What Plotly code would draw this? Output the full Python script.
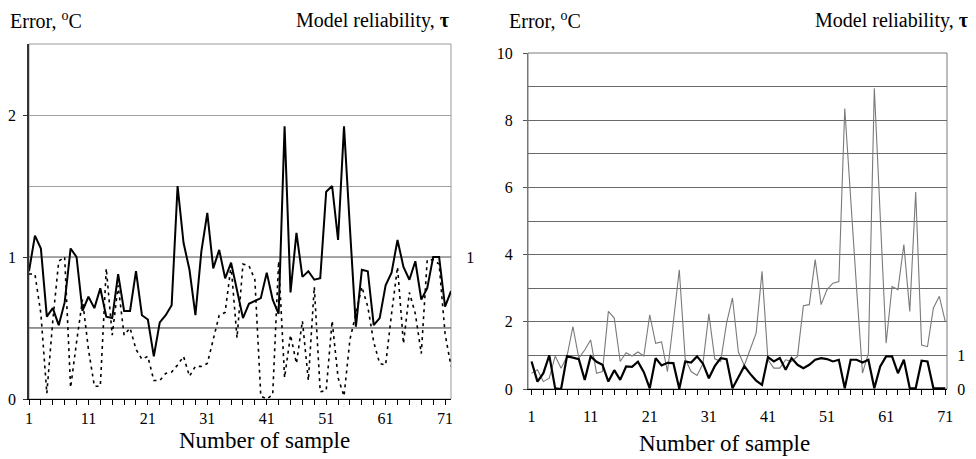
import plotly.graph_objects as go

# ---------------- data ----------------
samples_a = list(range(1, 73))
error_a = [0.90, 1.15, 1.06, 0.58, 0.64, 0.52, 0.68, 1.06, 1.00, 0.62,
           0.72, 0.64, 0.78, 0.58, 0.57, 0.88, 0.62, 0.62, 0.90, 0.59,
           0.56, 0.30, 0.54, 0.59, 0.66, 1.50, 1.10, 0.91, 0.59, 1.04,
           1.31, 0.92, 1.05, 0.85, 0.96, 0.76, 0.57, 0.67, 0.69, 0.71,
           0.89, 0.70, 0.60, 1.92, 0.75, 1.17, 0.86, 0.90, 0.84, 0.85,
           1.46, 1.50, 1.12, 1.92, 1.20, 0.51, 0.91, 0.90, 0.52, 0.57,
           0.80, 0.89, 1.12, 0.93, 0.84, 0.97, 0.70, 0.78, 1.00, 1.00,
           0.65, 0.76]
reliability_a = [0.88, 0.88, 0.60, 0.04, 0.55, 0.97, 1.00, 0.08, 0.40, 0.70,
                 0.35, 0.09, 0.09, 0.92, 0.45, 0.80, 0.45, 0.50, 0.35, 0.28,
                 0.30, 0.13, 0.13, 0.18, 0.19, 0.24, 0.30, 0.16, 0.23, 0.23,
                 0.25, 0.42, 0.59, 0.61, 0.94, 0.43, 0.95, 0.94, 0.84, 0.02,
                 0.00, 0.03, 0.97, 0.15, 0.45, 0.25, 0.55, 0.13, 0.79, 0.05,
                 0.06, 0.55, 0.15, 0.02, 0.42, 0.60, 0.79, 0.65, 0.40, 0.25,
                 0.24, 0.60, 0.93, 0.39, 0.75, 0.60, 0.32, 0.98, 0.98, 0.95,
                 0.46, 0.23]

samples_b = list(range(1, 72))
error_b = [0.47, 0.57, 0.22, 0.32, 0.98, 0.62, 0.97, 1.86, 0.92, 1.16,
           1.46, 0.47, 0.52, 2.31, 2.11, 0.82, 1.08, 0.98, 1.10, 0.98,
           2.21, 1.36, 1.40, 0.52, 2.00, 3.55, 0.90, 0.52, 0.40, 0.75,
           2.24, 0.90, 0.82, 1.96, 2.71, 1.10, 0.70, 1.16, 1.66, 3.50,
           0.87, 0.62, 0.62, 0.87, 0.82, 0.97, 2.48, 2.51, 3.85, 2.51,
           2.96, 3.15, 3.20, 8.35, 5.60, 3.00, 0.47, 1.06, 8.95, 5.10,
           1.36, 3.05, 2.96, 4.30, 2.31, 5.86, 1.31, 1.26, 2.41, 2.76,
           2.01]
reliability_b = [0.82, 0.22, 0.47, 1.00, 0.02, 0.00, 0.98, 0.93, 0.89, 0.27,
                 0.97, 0.81, 0.72, 0.22, 0.56, 0.27, 0.67, 0.66, 0.81, 0.50,
                 0.02, 0.92, 0.70, 0.78, 0.77, 0.01, 0.82, 0.79, 0.97, 0.76,
                 0.32, 0.68, 0.92, 0.89, 0.02, 0.35, 0.68, 0.45, 0.25, 0.12,
                 0.95, 0.82, 0.92, 0.57, 0.92, 0.72, 0.62, 0.72, 0.87, 0.92,
                 0.89, 0.82, 0.87, 0.02, 0.87, 0.87, 0.79, 0.87, 0.02, 0.67,
                 0.97, 0.97, 0.47, 0.87, 0.02, 0.02, 0.84, 0.82, 0.02, 0.02,
                 0.02]

x_ticks = [1, 11, 21, 31, 41, 51, 61, 71]
y_ticks_a = [0, 1, 2]
y_ticks_b = [0, 2, 4, 6, 8, 10]
right_ticks_a = [1]
right_ticks_b = [0, 1]

FONT = "Liberation Serif"

# The page body has an 8px margin, so the figure is sized to end at the window edge.
W, H = 968, 451

fig = go.Figure()
fig.add_trace(go.Scatter(x=samples_a, y=error_a, mode="lines",
                         line=dict(color="black", width=2),
                         xaxis="x", yaxis="y", showlegend=False))
fig.add_trace(go.Scatter(x=samples_a, y=reliability_a, mode="lines",
                         line=dict(color="black", width=1.6, dash="3px,4px"),
                         xaxis="x", yaxis="y2", showlegend=False))
fig.add_trace(go.Scatter(x=samples_b, y=error_b, mode="lines",
                         line=dict(color="#7a7a7a", width=1.1),
                         xaxis="x2", yaxis="y3", showlegend=False))
fig.add_trace(go.Scatter(x=samples_b, y=reliability_b, mode="lines",
                         line=dict(color="black", width=2.2),
                         xaxis="x2", yaxis="y4", showlegend=False))

def xaxis_style(domain, rng, anchor, standoff):
    return dict(domain=domain, range=rng, anchor=anchor, automargin=False,
                tickmode="array", tickvals=x_ticks, ticks="outside", ticklen=5,
                tickcolor="black", showline=True, linecolor="black", linewidth=1,
                showgrid=False, zeroline=False, ticklabelstandoff=standoff,
                tickfont=dict(family=FONT, size=16, color="black"),
                minor=dict(tickmode="linear", tick0=1, dtick=2, ticks="outside",
                           ticklen=5, tickcolor="black", showgrid=False))

fig.update_layout(
    template="none",
    width=W, height=H,
    margin=dict(l=0, r=0, t=0, b=0, pad=0),
    paper_bgcolor="white", plot_bgcolor="white",
    showlegend=False,
    font=dict(family=FONT, color="black", size=16),
    xaxis=xaxis_style([21 / W, 443 / W], [1, 72], "y", 0),
    yaxis=dict(domain=[60 / H, 415 / H], range=[0, 2.5], anchor="x", automargin=False,
               tickmode="array", tickvals=y_ticks_a, ticks="outside", ticklen=4,
               tickcolor="#333", showline=True, linecolor="#333", linewidth=1.5,
               showgrid=True, gridcolor="#a0a0a0", gridwidth=1, zeroline=False,
               ticklabelstandoff=4,
               tickfont=dict(family=FONT, size=16, color="black"),
               minor=dict(tickmode="linear", tick0=0, dtick=0.5, showgrid=True,
                          gridcolor="#a0a0a0", ticks="")),
    yaxis2=dict(overlaying="y", side="right", anchor="x", range=[0, 2.5],
                automargin=False,
                tickmode="array", tickvals=right_ticks_a,
                ticks="outside", ticklen=11, tickcolor="rgba(0,0,0,0)",
                showline=False, showgrid=False, zeroline=False,
                tickfont=dict(family=FONT, size=16, color="black")),
    xaxis2=xaxis_style([520 / W, 939 / W], [0.4, 71.3], "y3", 8),
    yaxis3=dict(domain=[70 / H, 406 / H], range=[0, 10], anchor="x2", automargin=False,
                tickmode="array", tickvals=y_ticks_b, ticks="outside", ticklen=4,
                tickcolor="#555", showline=True, linecolor="#777", linewidth=1,
                showgrid=True, gridcolor="#6a6a6a", gridwidth=1, zeroline=False,
                ticklabelstandoff=7,
                tickfont=dict(family=FONT, size=16, color="black"),
                minor=dict(tickmode="linear", tick0=0, dtick=1, showgrid=True,
                           gridcolor="#6a6a6a", ticks="")),
    yaxis4=dict(overlaying="y3", side="right", anchor="x2", range=[0, 10],
                automargin=False,
                tickmode="array", tickvals=right_ticks_b,
                ticks="outside", ticklen=6, tickcolor="rgba(0,0,0,0)",
                showline=False, showgrid=False, zeroline=False,
                tickfont=dict(family=FONT, size=16, color="black")),
)

# panel borders and darker reference lines (styling)
fig.add_shape(type="rect", xref="x domain", yref="y domain", x0=0, x1=1, y0=0, y1=1,
              line=dict(color="#9a9a9a", width=1), layer="below")
fig.add_shape(type="rect", xref="x2 domain", yref="y3 domain", x0=0, x1=1, y0=0, y1=1,
              line=dict(color="#7a7a7a", width=1), layer="below")
fig.add_shape(type="line", xref="x domain", yref="y", x0=0, x1=1, y0=1, y1=1,
              line=dict(color="#555", width=1.2), layer="below")
fig.add_shape(type="line", xref="x domain", yref="y", x0=0, x1=1, y0=0.5, y1=0.5,
              line=dict(color="#222", width=1.2), layer="below")

ann_font = dict(family=FONT, size=20, color="black")
title_y = 1 - 12 / H
fig.add_annotation(text="Error, <sup>o</sup>C", xref="paper", yref="paper",
                   x=0.0, y=title_y, xanchor="left", yanchor="middle",
                   showarrow=False, font=ann_font)
fig.add_annotation(text="Model reliability, <b>τ</b>", xref="paper", yref="paper",
                   x=443 / W, y=title_y, xanchor="right", yanchor="middle",
                   showarrow=False, font=ann_font)
fig.add_annotation(text="Error, <sup>o</sup>C", xref="paper", yref="paper",
                   x=499 / W, y=title_y, xanchor="left", yanchor="middle",
                   showarrow=False, font=ann_font)
fig.add_annotation(text="Model reliability, <b>τ</b>", xref="paper", yref="paper",
                   x=962 / W, y=title_y, xanchor="right", yanchor="middle",
                   showarrow=False, font=ann_font)
fig.add_annotation(text="Number of sample", xref="paper", yref="paper",
                   x=256 / W, y=1 - 432 / H, xanchor="center", yanchor="middle",
                   showarrow=False, font=dict(family=FONT, size=23, color="black"))
fig.add_annotation(text="Number of sample", xref="paper", yref="paper",
                   x=716 / W, y=1 - 435 / H, xanchor="center", yanchor="middle",
                   showarrow=False, font=dict(family=FONT, size=23, color="black"))

fig.write_html("out.html")
